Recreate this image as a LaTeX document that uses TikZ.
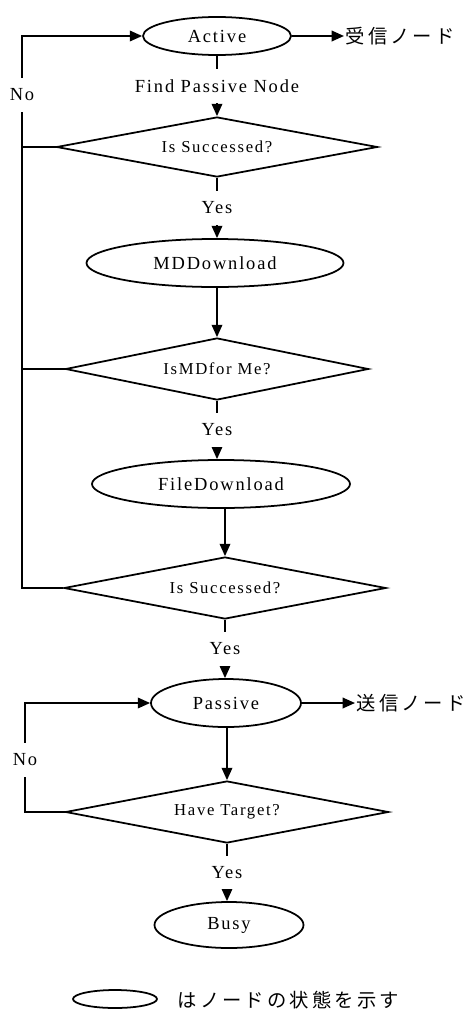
\documentclass[tikz,border=0pt]{standalone}
\usepackage{fontspec}
\setmainfont{Liberation Serif}[LetterSpace=10]
\newfontfamily\jpfont{Noto Sans CJK JP}[LetterSpace=16]
\usetikzlibrary{shapes.geometric,arrows.meta}

\tikzset{
  arr/.style={-{Triangle[length=7pt,width=6pt]}},
  state/.style={draw,ellipse,inner sep=0pt,font=\fontsize{10.5}{12}\selectfont},
  test/.style={draw,diamond,aspect=5,inner sep=0pt,font=\fontsize{9.5}{11}\selectfont},
  lbl/.style={fill=white,inner xsep=2pt,inner ysep=6pt,font=\fontsize{10.5}{12}\selectfont},
  jp/.style={anchor=west,inner sep=0.5pt,font=\jpfont\fontsize{11}{13}\selectfont},
}

\begin{document}
\begin{tikzpicture}[x=0.02cm,y=-0.02cm,line width=1pt]
	\useasboundingbox (0,0) rectangle (469,1014);
	% node states
	\foreach \nm/\x/\y/\w/\h/\t in {%
		active/217/36/148/38/Active,%
		md/215/263/257/48/MDDownload,%
		file/221/484/258/48/FileDownload,%
		passive/226/703/150/48/Passive,%
		busy/229/925/149/46/Busy}{
		\node[state,minimum width=\w*0.02cm,minimum height=\h*0.02cm] (\nm) at (\x,\y) {\t};
	}
	% tests
	\foreach \nm/\x/\y/\w/\h/\t in {%
		d1/217/147/321/60/Is Successed?,%
		d2/217/369/303/62/IsMDfor Me?,%
		d3/225/588/322/62/Is Successed?,%
		d4/227/812/323/62/Have Target?}{
		\node[test,minimum width=\w*0.02cm,minimum height=\h*0.02cm] (\nm) at (\x,\y) {\t};
	}
	% main line
	\draw[arr] (active.south -| d1.north) -- node[lbl] (find) {Find Passive Node} (d1.north);
	\draw[arr] (d1.south) -- node[lbl] (yes1) {Yes} (d1.south |- md.north);
	\draw[arr] (md.south -| d2.north) -- (d2.north);
	\draw[arr] (d2.south) -- node[lbl] (yes2) {Yes} (d2.south |- file.north);
	\draw[arr] (file.south -| d3.north) -- (d3.north);
	\draw[arr] (d3.south) -- node[lbl] (yes3) {Yes} (d3.south |- passive.north);
	\draw[arr] (passive.south -| d4.north) -- (d4.north);
	\draw[arr] (d4.south) -- node[lbl] (yes4) {Yes} (d4.south |- busy.north);
	% No loops
	\coordinate (loopA) at (22,36);
	\draw[arr] (d3.west) -| (loopA) -- (active);
	\draw (d1.west) -- (d1.west -| loopA);
	\draw (d2.west) -- (d2.west -| loopA);
	\node[lbl] (no1) at (22,95) {No};
	\coordinate (loopB) at (25,703);
	\draw[arr] (d4.west) -| (loopB) -- (passive);
	\node[lbl] (no2) at (25,760) {No};
	% outputs
	\node[jp] (recv) at (344,36) {受信ノード};
	\draw[arr] (active) -- (recv);
	\node[jp] (send) at (355,703) {送信ノード};
	\draw[arr] (passive) -- (send);
	% legend
	\node[state,minimum width=84*0.02cm,minimum height=18*0.02cm] (key) at (115,999) {};
	\node[jp] (keytxt) at (176,1000) {はノードの状態を示す};
\end{tikzpicture}
\end{document}
